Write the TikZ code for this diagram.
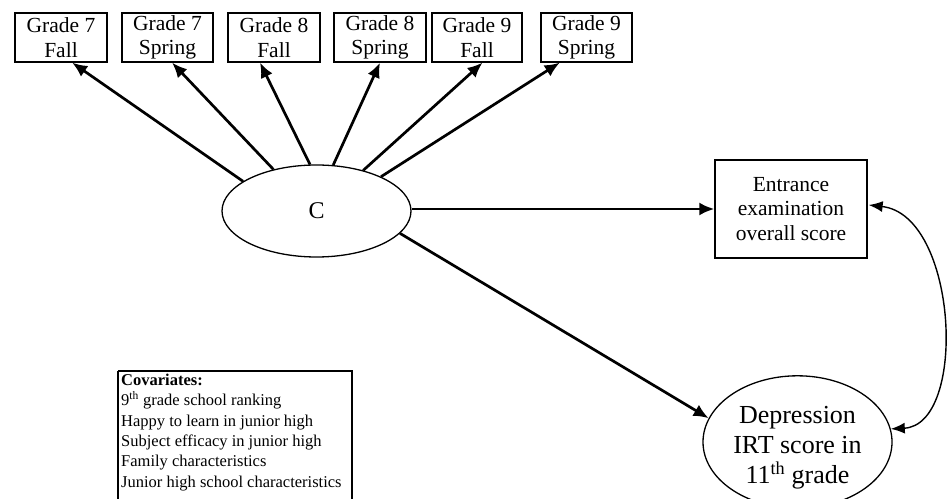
\documentclass[tikz,border=0pt]{standalone}
\usepackage{fontspec}
\setmainfont{Liberation Serif}
\usetikzlibrary{arrows.meta,calc,shapes.geometric}
\begin{document}
\begin{tikzpicture}[x=1pt,y=1pt,
  obsbox/.style={draw,line width=1.3pt,inner sep=0pt,align=center,
    font=\fontsize{21.5}{24.5}\selectfont},
  latent/.style={draw,ellipse,line width=1.3pt,inner sep=0pt,align=center},
  path/.style={line width=2.7pt,-{Latex[length=15pt,width=13pt]}},
  cov/.style={line width=1.4pt,{Latex[length=14pt,width=11pt]}-{Latex[length=14pt,width=11pt]}}]
\useasboundingbox (0,0) rectangle (947,498);
% top indicator boxes
\node[obsbox,minimum width=92pt,minimum height=49pt] (g1) at (61,460.5) {Grade 7\\Fall};
\node[obsbox,minimum width=91pt,minimum height=49pt] (g2) at (167.5,460.5) {Grade 7\\Spring};
\node[obsbox,minimum width=92pt,minimum height=49pt] (g3) at (274,460.5) {Grade 8\\Fall};
\node[obsbox,minimum width=92pt,minimum height=49pt] (g4) at (380,460.5) {Grade 8\\Spring};
\node[obsbox,minimum width=90pt,minimum height=49pt] (g5) at (477,460.5) {Grade 9\\Fall};
\node[obsbox,minimum width=91pt,minimum height=49pt] (g6) at (586.5,460.5) {Grade 9\\Spring};
% latent C
\node[latent,minimum width=189pt,minimum height=92pt,font=\fontsize{24}{27}\selectfont] (C) at (316.5,287) {C};
% outcomes
\node[obsbox,minimum width=152pt,minimum height=98pt] (E) at (791,289) {Entrance\\examination\\overall score};
\node[latent,minimum width=189pt,minimum height=110pt,font=\fontsize{26}{30}\selectfont] (D) at (797.5,56)
  {\\[-2pt]Depression\\IRT score in\\11\textsuperscript{th} grade};
% covariates box
\draw[line width=1.3pt] (118,127) -- (118,-3) (352,-3) -- (352,127) -- (118,127);
\node[anchor=north west,inner sep=0pt,align=left,font=\fontsize{16.5}{20.3}\selectfont] (cv) at (121,124)
  {\textbf{Covariates:}\\9\textsuperscript{th} grade school ranking\\Happy to learn in junior high\\Subject efficacy in junior high\\Family characteristics\\Junior high school characteristics};
% loadings
\draw[path] (C.158.5) -- ($(g1.south west)!0.62!(g1.south east)$);
\draw[path] (C.136.7) -- ($(g2.south west)!0.55!(g2.south east)$);
\draw[path] (C.98) -- ($(g3.south west)!0.35!(g3.south east)$);
\draw[path] (C.70.3) -- ($(g4.south west)!0.5!(g4.south east)$);
\draw[path] (C.41.3) -- ($(g5.south west)!0.56!(g5.south east)$);
\draw[path] (C.28.2) -- ($(g6.south west)!0.21!(g6.south east)$);
% regressions
\draw[path] (C.east |- E.west) -- (E.west);
\draw[path] (C.-15) -- (D.165);
% residual covariance
\draw[cov] ($(E.east)+(1,4)$) .. controls (958,283) and (968,73) .. (D.8.6);
\end{tikzpicture}
\end{document}
